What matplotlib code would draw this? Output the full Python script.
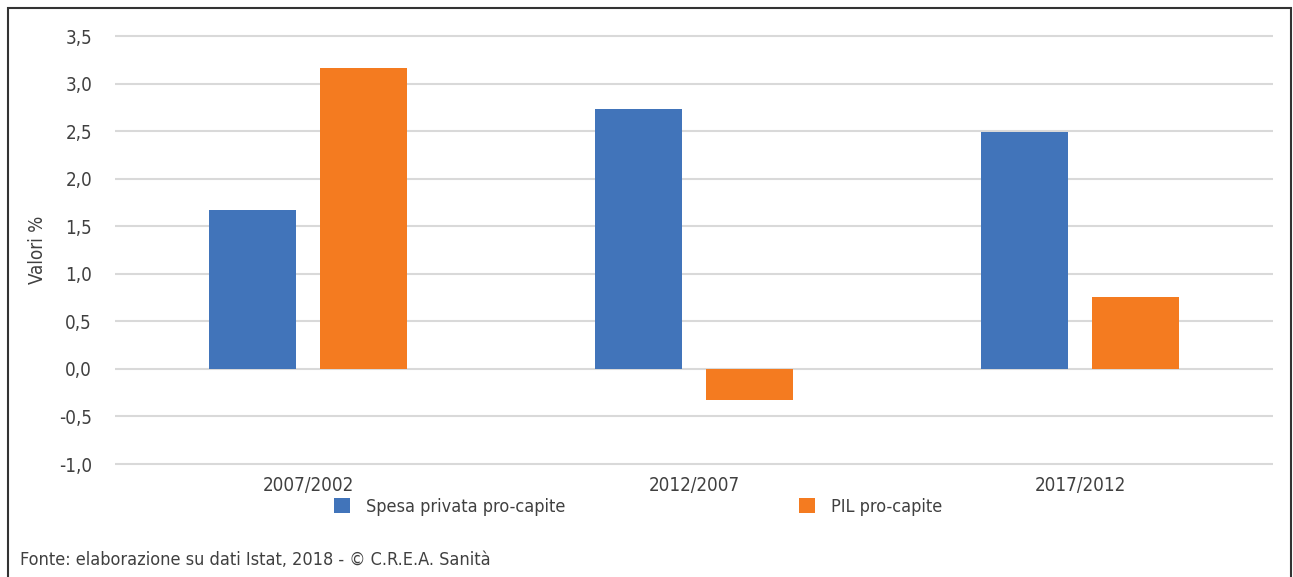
import numpy as np
import matplotlib
matplotlib.use("Agg")
import matplotlib.pyplot as plt
from matplotlib.patches import Rectangle

plt.rcParams['font.family'] = ['DejaVu Sans']
plt.rcParams['font.stretch'] = 'condensed'

# Data (variazione media annua, %)
periods = ['2007/2002', '2012/2007', '2017/2012']
spesa_privata = [1.67, 2.73, 2.49]
pil = [3.16, -0.33, 0.76]
yticks = [-1.0, -0.5, 0.0, 0.5, 1.0, 1.5, 2.0, 2.5, 3.0, 3.5]

blue = '#4174ba'
orange = '#f47b20'
text_col = '#404040'

fig = plt.figure(figsize=(12.93, 5.77), dpi=100)
# pad the y range a little so the outer gridlines are not clipped
ppu = (464 - 36) / 4.5
y0, y1 = -1.0 - 2 / ppu, 3.5 + 2 / ppu
ax = fig.add_axes([115 / 1293, 1 - 466 / 577, (1273 - 115) / 1293, (466 - 34) / 577])

x = np.arange(len(periods))
w = 0.225
off = 0.144
ax.bar(x - off, spesa_privata, w, color=blue, label='Spesa privata pro-capite', zorder=3)
ax.bar(x + off, pil, w, color=orange, label='PIL pro-capite', zorder=3)

ax.set_xlim(-0.5, 2.5)
ax.set_ylim(y0, y1)
ax.set_yticks(yticks)
ax.set_yticklabels([('%.1f' % v).replace('.', ',') for v in yticks])
ax.set_xticks(x)
ax.set_xticklabels(periods)
ax.tick_params(length=0, labelsize=13.5, labelcolor=text_col)
ax.tick_params(axis='y', pad=16.5)
ax.tick_params(axis='x', pad=7)
ax.grid(axis='y', color='#d9d9d9', linewidth=1.5, zorder=0)
for s in ax.spines.values():
    s.set_visible(False)
ax.set_ylabel('Valori %', fontsize=13.5, color=text_col)
ax.yaxis.set_label_coords(-0.0587, 0.5)

fig.legend(loc='center', bbox_to_anchor=(638 / 1293, 1 - 507 / 577), ncol=2,
           frameon=False, fontsize=13, handlelength=0.886, handleheight=0.886,
           columnspacing=12.9, handletextpad=0.886, labelcolor=text_col)

fig.text(20 / 1293, 1 - 560 / 577, 'Fonte: elaborazione su dati Istat, 2018 - © C.R.E.A. Sanità',
         fontsize=13, color=text_col, va='center', ha='left')

fig.patches.append(Rectangle((8 / 1293, -0.05), (1291 - 8) / 1293, 1.05 - 8 / 577,
                             transform=fig.transFigure, fill=False,
                             edgecolor='#333333', linewidth=1.5))

fig.savefig('out.png', dpi=100)
